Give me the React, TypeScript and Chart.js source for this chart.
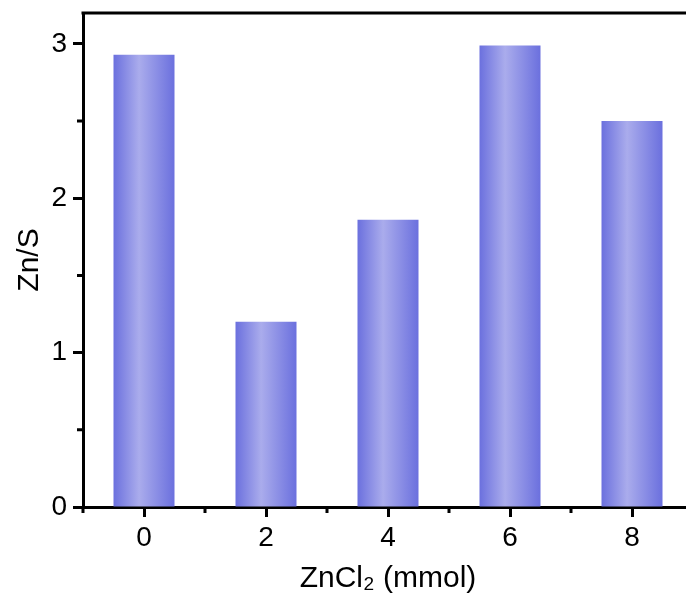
import React, { useEffect, useRef } from "react";
import { Chart, registerables } from "chart.js";

Chart.register(...registerables);

const categories = [0, 2, 4, 6, 8];
const values = [2.93, 1.2, 1.86, 2.99, 2.5];
const xMajorTicks = [0, 2, 4, 6, 8];
const xMinorTicks = [-1, 1, 3, 5, 7, 9];
const yMajorTicks = [0, 1, 2, 3];
const yMinorTicks = [0.5, 1.5, 2.5];
const xTitle = "ZnCl\u2082 (mmol)";
const yTitle = "Zn/S";

const FONT = "'Liberation Sans', Arial, sans-serif";

const frameAndMinor = {
  id: "frameAndMinor",
  afterDraw(chart: any) {
    const { ctx, chartArea, scales } = chart;
    const { left, right, top, bottom } = chartArea;
    ctx.save();
    ctx.strokeStyle = "#000";
    ctx.lineWidth = 3;
    ctx.beginPath();
    ctx.moveTo(left - 1.5, top);
    ctx.lineTo(right, top);
    ctx.lineTo(right, bottom);
    ctx.stroke();
    ctx.lineWidth = 3;
    ctx.beginPath();
    for (const v of xMinorTicks) {
      const px = scales.x.getPixelForValue(v);
      ctx.moveTo(px, bottom);
      ctx.lineTo(px, bottom + 6);
    }
    for (const v of yMinorTicks) {
      const py = scales.y.getPixelForValue(v);
      ctx.moveTo(left, py);
      ctx.lineTo(left - 6, py);
    }
    ctx.stroke();
    ctx.restore();
  },
};

export default function App() {
  const ref = useRef<HTMLCanvasElement>(null);
  useEffect(() => {
    const canvas = ref.current!;
    const barColor = (c: any) => {
      const chart = c.chart;
      const xs = chart.scales && chart.scales.x;
      if (!xs || c.dataIndex === undefined) return "#8a8de6";
      const center = xs.getPixelForValue(categories[c.dataIndex]);
      const w = (xs.getPixelForValue(2) - xs.getPixelForValue(0)) * 0.5;
      if (!isFinite(center) || !isFinite(w)) return "#8a8de6";
      const g = chart.ctx.createLinearGradient(center - w / 2, 0, center + w / 2, 0);
      g.addColorStop(0, "#6b70de");
      g.addColorStop(0.42, "#aaacec");
      g.addColorStop(1, "#6b70de");
      return g;
    };
    const chart = new Chart(canvas, {
      type: "bar",
      data: {
        datasets: [
          {
            data: categories.map((x, i) => ({ x, y: values[i] })),
            backgroundColor: barColor,
            borderWidth: 0,
            barPercentage: 0.5,
            categoryPercentage: 1,
          },
        ],
      },
      options: {
        responsive: false,
        animation: false,
        layout: { padding: { top: 13, right: 7, left: 0, bottom: 0 } },
        plugins: { legend: { display: false }, tooltip: { enabled: false } },
        scales: {
          x: {
            type: "linear",
            min: -1,
            max: 9,
            offset: false,
            afterBuildTicks: (scale: any) => {
              scale.ticks = xMajorTicks.map((v) => ({ value: v }));
            },
            afterFit: (scale: any) => {
              scale.height = 98;
              scale.paddingLeft = 0;
              scale.paddingRight = 0;
            },
            ticks: {
              color: "#000",
              font: { family: FONT, size: 28 },
              padding: 4,
              maxRotation: 0,
              callback: (v: any) => String(v),
            },
            grid: {
              offset: false,
              drawOnChartArea: false,
              drawTicks: true,
              tickLength: 10,
              tickWidth: 3,
              tickColor: "#000",
            },
            border: { display: true, color: "#000", width: 3 },
            title: {
              display: true,
              text: xTitle,
              color: "#000",
              font: { family: FONT, size: 30 },
              padding: { top: 0, bottom: 8 },
            },
          },
          y: {
            type: "linear",
            min: 0,
            max: 3.2,
            afterBuildTicks: (scale: any) => {
              scale.ticks = yMajorTicks.map((v) => ({ value: v }));
            },
            afterFit: (scale: any) => {
              scale.width = 83;
              scale.paddingTop = 0;
              scale.paddingBottom = 0;
            },
            ticks: {
              color: "#000",
              font: { family: FONT, size: 28 },
              padding: 6,
              callback: (v: any) => String(v),
            },
            grid: {
              drawOnChartArea: false,
              drawTicks: true,
              tickLength: 10,
              tickWidth: 3,
              tickColor: "#000",
            },
            border: { display: true, color: "#000", width: 3 },
            title: {
              display: true,
              text: yTitle,
              color: "#000",
              font: { family: FONT, size: 30 },
              padding: { top: 12, bottom: 0 },
            },
          },
        },
      },
      plugins: [frameAndMinor],
    });
    return () => chart.destroy();
  }, []);
  return (
    <div
      style={{
        position: "fixed",
        left: 0,
        top: 0,
        width: 686,
        height: 605,
        overflow: "hidden",
        background: "#fff",
      }}
    >
      <canvas ref={ref} width={700} height={605} style={{ display: "block" }} />
    </div>
  );
}
